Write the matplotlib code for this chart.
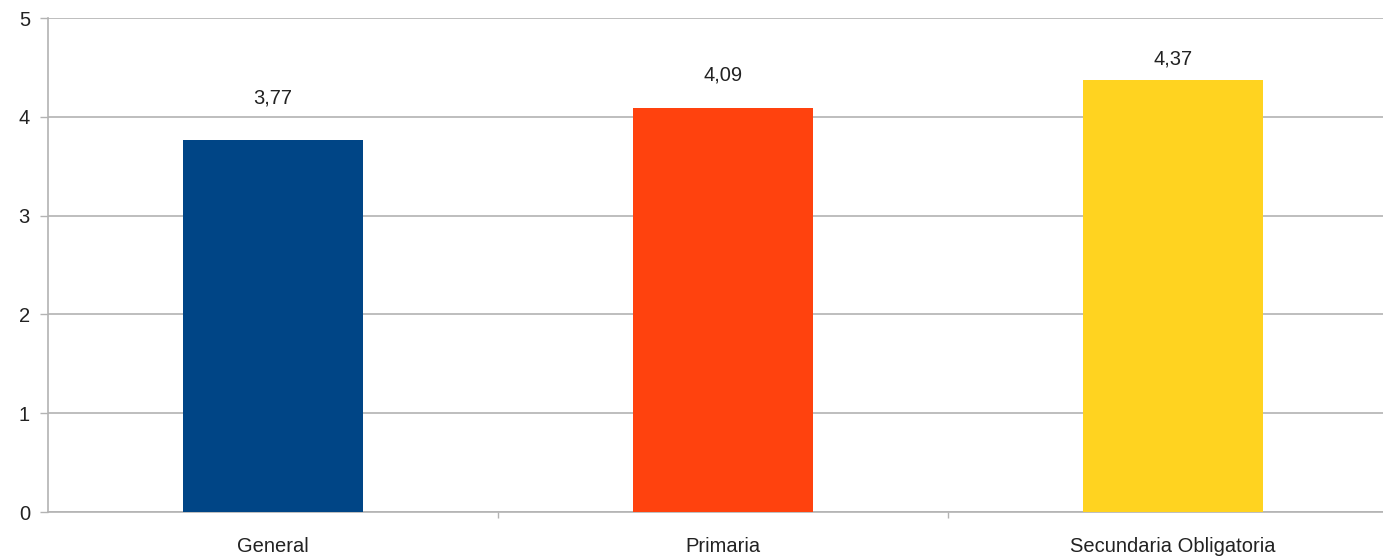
import matplotlib
matplotlib.use("Agg")
import matplotlib.pyplot as plt
from matplotlib.ticker import FixedLocator, NullFormatter, FixedFormatter

categories = ["General", "Primaria", "Secundaria Obligatoria"]
values = [3.77, 4.09, 4.37]
value_labels = ["3,77", "4,09", "4,37"]
colors = ["#004586", "#ff420e", "#ffd320"]
label_offsets_px = [42, 33, 21]
yticks = [0, 1, 2, 3, 4, 5]

plt.rcParams['font.family'] = ['Liberation Sans', 'DejaVu Sans']

W, H = 1383, 557
fig = plt.figure(figsize=(W / 100, H / 100), dpi=100)
ax = fig.add_axes([48 / W, (H - 512) / H, 1350 / W, (512 - 18) / H])

x = list(range(len(categories)))
bars = ax.bar(x, values, width=0.4, color=colors, zorder=3)

for xi, v, lab, off in zip(x, values, value_labels, label_offsets_px):
    ax.annotate(lab, xy=(xi, v), xytext=(0, off * 0.72), textcoords="offset points",
                ha="center", va="center", fontsize=14.5, color="#222222")

ax.set_xlim(-0.5, len(categories) - 0.5)
ax.set_ylim(0, 5)
ax.set_yticks(yticks)
ax.set_yticklabels([str(t) for t in yticks])

# category boundaries as major ticks, centered labels as minor ticks
ax.xaxis.set_major_locator(FixedLocator([i + 0.5 for i in range(len(categories))]))
ax.xaxis.set_major_formatter(NullFormatter())
ax.xaxis.set_minor_locator(FixedLocator(x))
ax.xaxis.set_minor_formatter(FixedFormatter(categories))
ax.tick_params(axis="x", which="major", length=4.5, width=1, color="#b3b3b3", direction="out")
ax.tick_params(axis="x", which="minor", length=0, pad=18, labelsize=14.5, labelcolor="#222222")
ax.tick_params(axis="y", length=6, width=1, color="#b3b3b3", pad=7, labelsize=14.5, labelcolor="#222222")

ax.yaxis.grid(True, color="#b3b3b3", linewidth=1.2, zorder=0)
ax.set_axisbelow(True)
for side in ["top", "right"]:
    ax.spines[side].set_visible(False)
for side in ["left", "bottom"]:
    ax.spines[side].set_color("#b3b3b3")
    ax.spines[side].set_linewidth(1.2)

fig.savefig("out.png", dpi=100, facecolor="white")
